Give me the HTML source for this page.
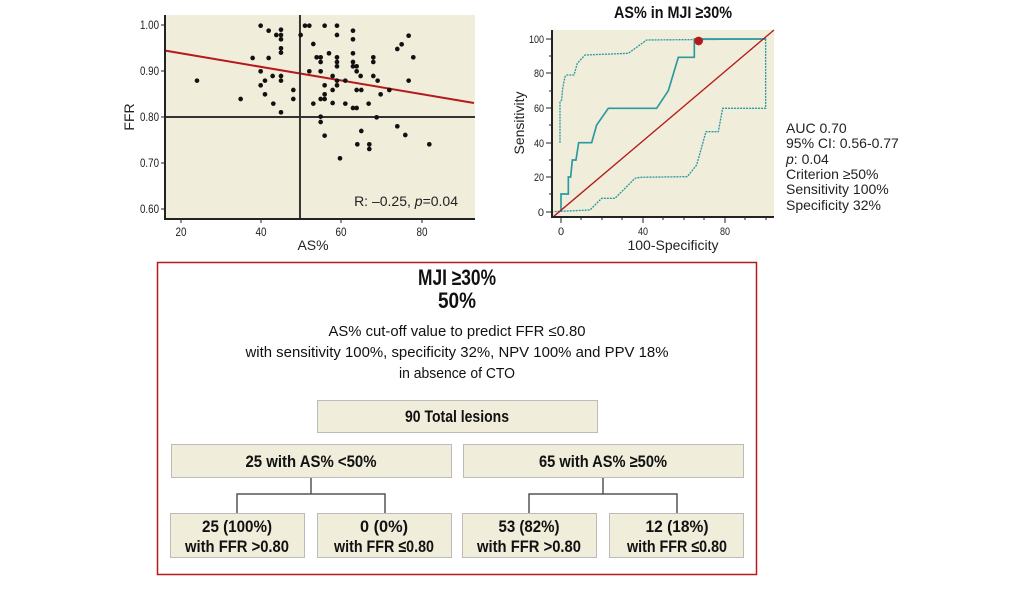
<!DOCTYPE html>
<html><head><meta charset="utf-8"><style>
html,body{margin:0;padding:0;background:#fff;}
svg{display:block;}
.n{font-family:"Liberation Sans Narrow","Liberation Sans",sans-serif;}
.s{font-family:"Liberation Sans",sans-serif;}
</style></head><body>
<svg width="1033" height="591" viewBox="0 0 1033 591" xmlns="http://www.w3.org/2000/svg">
<!-- Scatter -->
<rect x="165" y="15" width="310" height="204" fill="#f1eddb"/>
<g transform="translate(120,0) scale(0.3333)" fill="#111">
<line x1="136" y1="152" x2="1062" y2="309" stroke="#b5191c" stroke-width="6"/>
<line x1="540" y1="45" x2="540" y2="655" stroke="#333" stroke-width="6"/>
<line x1="135" y1="351" x2="1065" y2="351" stroke="#333" stroke-width="6"/>
<circle cx="231" cy="242" r="7"/><circle cx="362" cy="297" r="7"/><circle cx="398" cy="174" r="7"/><circle cx="422" cy="77" r="7"/><circle cx="422" cy="214" r="7"/><circle cx="422" cy="256" r="7"/><circle cx="435" cy="242" r="7"/><circle cx="435" cy="283" r="7"/><circle cx="446" cy="92" r="7"/><circle cx="446" cy="174" r="7"/><circle cx="458" cy="228" r="7"/><circle cx="460" cy="311" r="7"/><circle cx="469" cy="105" r="7"/><circle cx="483" cy="89" r="7"/><circle cx="483" cy="105" r="7"/><circle cx="483" cy="118" r="7"/><circle cx="483" cy="145" r="7"/><circle cx="483" cy="158" r="7"/><circle cx="483" cy="228" r="7"/><circle cx="483" cy="242" r="7"/><circle cx="483" cy="337" r="7"/><circle cx="520" cy="270" r="7"/><circle cx="520" cy="297" r="7"/><circle cx="542" cy="105" r="7"/><circle cx="555" cy="77" r="7"/><circle cx="568" cy="77" r="7"/><circle cx="568" cy="214" r="7"/><circle cx="580" cy="311" r="7"/><circle cx="580" cy="132" r="7"/><circle cx="590" cy="172" r="7"/><circle cx="602" cy="172" r="7"/><circle cx="602" cy="186" r="7"/><circle cx="602" cy="214" r="7"/><circle cx="602" cy="297" r="7"/><circle cx="602" cy="350" r="7"/><circle cx="602" cy="366" r="7"/><circle cx="614" cy="77" r="7"/><circle cx="614" cy="256" r="7"/><circle cx="614" cy="283" r="7"/><circle cx="614" cy="297" r="7"/><circle cx="614" cy="407" r="7"/><circle cx="627" cy="160" r="7"/><circle cx="638" cy="228" r="7"/><circle cx="638" cy="270" r="7"/><circle cx="638" cy="309" r="7"/><circle cx="651" cy="77" r="7"/><circle cx="651" cy="105" r="7"/><circle cx="651" cy="172" r="7"/><circle cx="651" cy="186" r="7"/><circle cx="651" cy="199" r="7"/><circle cx="651" cy="242" r="7"/><circle cx="651" cy="256" r="7"/><circle cx="660" cy="475" r="7"/><circle cx="676" cy="242" r="7"/><circle cx="676" cy="311" r="7"/><circle cx="699" cy="92" r="7"/><circle cx="699" cy="118" r="7"/><circle cx="699" cy="160" r="7"/><circle cx="699" cy="186" r="7"/><circle cx="699" cy="199" r="7"/><circle cx="699" cy="324" r="7"/><circle cx="710" cy="199" r="7"/><circle cx="710" cy="214" r="7"/><circle cx="710" cy="270" r="7"/><circle cx="710" cy="324" r="7"/><circle cx="712" cy="433" r="7"/><circle cx="722" cy="228" r="7"/><circle cx="724" cy="270" r="7"/><circle cx="724" cy="393" r="7"/><circle cx="746" cy="311" r="7"/><circle cx="748" cy="433" r="7"/><circle cx="748" cy="447" r="7"/><circle cx="760" cy="228" r="7"/><circle cx="760" cy="172" r="7"/><circle cx="760" cy="186" r="7"/><circle cx="770" cy="352" r="7"/><circle cx="773" cy="242" r="7"/><circle cx="782" cy="283" r="7"/><circle cx="808" cy="270" r="7"/><circle cx="832" cy="379" r="7"/><circle cx="832" cy="147" r="7"/><circle cx="845" cy="133" r="7"/><circle cx="856" cy="405" r="7"/><circle cx="866" cy="107" r="7"/><circle cx="866" cy="242" r="7"/><circle cx="880" cy="172" r="7"/><circle cx="928" cy="433" r="7"/>
</g>
<path d="M165 15 V219 H475" fill="none" stroke="#222" stroke-width="2"/>
<g stroke="#222" stroke-width="1">
<line x1="161" y1="25" x2="165" y2="25"/><line x1="161" y1="71" x2="165" y2="71"/><line x1="161" y1="117" x2="165" y2="117"/><line x1="161" y1="163" x2="165" y2="163"/><line x1="161" y1="209" x2="165" y2="209"/>
<line x1="181" y1="219" x2="181" y2="223"/><line x1="261" y1="219" x2="261" y2="223"/><line x1="341" y1="219" x2="341" y2="223"/><line x1="422" y1="219" x2="422" y2="223"/>
</g>
<g class="n" font-size="12" fill="#222" text-anchor="end" lengthAdjust="spacingAndGlyphs">
<text x="159" y="29" textLength="19" lengthAdjust="spacingAndGlyphs">1.00</text><text x="159" y="75" textLength="19" lengthAdjust="spacingAndGlyphs">0.90</text><text x="159" y="121" textLength="19" lengthAdjust="spacingAndGlyphs">0.80</text><text x="159" y="167" textLength="19" lengthAdjust="spacingAndGlyphs">0.70</text><text x="159" y="213" textLength="19" lengthAdjust="spacingAndGlyphs">0.60</text>
</g>
<g class="n" font-size="12" fill="#222" text-anchor="middle">
<text x="181" y="236" textLength="11" lengthAdjust="spacingAndGlyphs">20</text><text x="261" y="236" textLength="11" lengthAdjust="spacingAndGlyphs">40</text><text x="341" y="236" textLength="11" lengthAdjust="spacingAndGlyphs">60</text><text x="422" y="236" textLength="11" lengthAdjust="spacingAndGlyphs">80</text>
</g>
<text class="s" x="313" y="250" font-size="14" text-anchor="middle" fill="#222">AS%</text>
<text class="s" x="0" y="0" font-size="14" text-anchor="middle" fill="#222" transform="translate(134,117) rotate(-90)">FFR</text>
<text class="s" x="458" y="206" font-size="14" text-anchor="end" fill="#222">R: –0.25, <tspan font-style="italic">p</tspan>=0.04</text>

<!-- ROC -->
<text class="n" x="673" y="18" font-size="17" font-weight="bold" text-anchor="middle" fill="#111" textLength="118" lengthAdjust="spacingAndGlyphs">AS% in MJI ≥30%</text>
<rect x="552" y="30" width="222" height="187" fill="#f1eddb"/>
<g transform="translate(500,0) scale(0.3333)" fill="none">
<polyline points="183,635 183,582 205,582 205,531 212,531 217,480 228,480 236,428 275,428 290,375 325,325 470,325 505,272 535,172 583,172 583,117 797,117" stroke="#2a9aa0" stroke-width="5"/>
<polyline points="180,428 180,305 185,300 188,265 195,230 200,225 222,225 232,190 255,165 385,160 440,120 797,117 797,325 668,325 655,395 618,395 590,495 562,530 420,532 405,535 345,595 305,595 285,615 270,630 160,635" stroke="#2a9aa0" stroke-width="4" stroke-dasharray="6,3"/>
<line x1="158" y1="652" x2="822" y2="90" stroke="#b5191c" stroke-width="4"/>
<circle cx="596" cy="123" r="13" fill="#b5191c"/>
</g>
<path d="M552 30 V217 H774" fill="none" stroke="#222" stroke-width="2"/>
<g stroke="#222" stroke-width="1">
<line x1="546" y1="212" x2="552" y2="212"/><line x1="546" y1="177" x2="552" y2="177"/><line x1="546" y1="143" x2="552" y2="143"/><line x1="546" y1="108" x2="552" y2="108"/><line x1="546" y1="73" x2="552" y2="73"/><line x1="546" y1="39" x2="552" y2="39"/>
<line x1="549" y1="194" x2="552" y2="194"/><line x1="549" y1="160" x2="552" y2="160"/><line x1="549" y1="125" x2="552" y2="125"/><line x1="549" y1="91" x2="552" y2="91"/><line x1="549" y1="56" x2="552" y2="56"/>
<line x1="561" y1="217" x2="561" y2="223"/><line x1="643" y1="217" x2="643" y2="223"/><line x1="725" y1="217" x2="725" y2="223"/>
<line x1="581" y1="217" x2="581" y2="220"/><line x1="602" y1="217" x2="602" y2="220"/><line x1="622" y1="217" x2="622" y2="220"/><line x1="663" y1="217" x2="663" y2="220"/><line x1="684" y1="217" x2="684" y2="220"/><line x1="704" y1="217" x2="704" y2="220"/><line x1="745" y1="217" x2="745" y2="220"/><line x1="766" y1="217" x2="766" y2="220"/>
</g>
<g class="n" font-size="11" fill="#222" text-anchor="end">
<text x="544" y="216">0</text><text x="544" y="181" textLength="10" lengthAdjust="spacingAndGlyphs">20</text><text x="544" y="147" textLength="10" lengthAdjust="spacingAndGlyphs">40</text><text x="544" y="112" textLength="10" lengthAdjust="spacingAndGlyphs">60</text><text x="544" y="77" textLength="10" lengthAdjust="spacingAndGlyphs">80</text><text x="544" y="43" textLength="15" lengthAdjust="spacingAndGlyphs">100</text>
</g>
<g class="n" font-size="11" fill="#222" text-anchor="middle">
<text x="561" y="235">0</text><text x="643" y="235" textLength="10" lengthAdjust="spacingAndGlyphs">40</text><text x="725" y="235" textLength="10" lengthAdjust="spacingAndGlyphs">80</text>
</g>
<text class="s" x="673" y="250" font-size="14" text-anchor="middle" fill="#222">100-Specificity</text>
<text class="s" font-size="14" text-anchor="middle" fill="#222" transform="translate(524,123) rotate(-90)">Sensitivity</text>
<g class="s" font-size="14" fill="#222">
<text x="786" y="133">AUC 0.70</text><text x="786" y="148">95% CI: 0.56-0.77</text><text x="786" y="164"><tspan font-style="italic">p</tspan>: 0.04</text><text x="786" y="179">Criterion ≥50%</text><text x="786" y="194">Sensitivity 100%</text><text x="786" y="210">Specificity 32%</text>
</g>

<!-- Box -->
<rect x="157.5" y="262.5" width="599" height="312" fill="none" stroke="#b5191c" stroke-width="1.5"/>
<g class="n" font-weight="bold" font-size="22" fill="#111" text-anchor="middle">
<text x="457" y="285" textLength="78" lengthAdjust="spacingAndGlyphs">MJI ≥30%</text><text x="457" y="308" textLength="38" lengthAdjust="spacingAndGlyphs">50%</text>
</g>
<g class="n" font-size="15" fill="#111" text-anchor="middle">
<text x="457" y="336" textLength="257" lengthAdjust="spacingAndGlyphs">AS% cut-off value to predict FFR ≤0.80</text>
<text x="457" y="357" textLength="423" lengthAdjust="spacingAndGlyphs">with sensitivity 100%, specificity 32%, NPV 100% and PPV 18%</text>
<text x="457" y="378" textLength="116" lengthAdjust="spacingAndGlyphs">in absence of CTO</text>
</g>
<g fill="#f1eddb" stroke="#bbb" stroke-width="1">
<rect x="317.5" y="400.5" width="280" height="32"/>
<rect x="171.5" y="444.5" width="280" height="33"/>
<rect x="463.5" y="444.5" width="280" height="33"/>
<rect x="170.5" y="513.5" width="134" height="44"/>
<rect x="317.5" y="513.5" width="134" height="44"/>
<rect x="462.5" y="513.5" width="134" height="44"/>
<rect x="609.5" y="513.5" width="134" height="44"/>
</g>
<g fill="none" stroke="#555" stroke-width="1.5">
<path d="M311 478 V494 M237 513 V494 H385 V513"/>
<path d="M603 478 V494 M529 513 V494 H677 V513"/>
</g>
<g class="n" font-weight="bold" font-size="17" fill="#111" text-anchor="middle">
<text x="457" y="422" textLength="104" lengthAdjust="spacingAndGlyphs">90 Total lesions</text>
<text x="311" y="467" textLength="131" lengthAdjust="spacingAndGlyphs">25 with AS% &lt;50%</text>
<text x="603" y="467" textLength="128" lengthAdjust="spacingAndGlyphs">65 with AS% ≥50%</text>
<text x="237" y="532" textLength="70" lengthAdjust="spacingAndGlyphs">25 (100%)</text><text x="237" y="552" textLength="104" lengthAdjust="spacingAndGlyphs">with FFR &gt;0.80</text>
<text x="384" y="532" textLength="48" lengthAdjust="spacingAndGlyphs">0 (0%)</text><text x="384" y="552" textLength="100" lengthAdjust="spacingAndGlyphs">with FFR ≤0.80</text>
<text x="529" y="532" textLength="61" lengthAdjust="spacingAndGlyphs">53 (82%)</text><text x="529" y="552" textLength="104" lengthAdjust="spacingAndGlyphs">with FFR &gt;0.80</text>
<text x="677" y="532" textLength="63" lengthAdjust="spacingAndGlyphs">12 (18%)</text><text x="677" y="552" textLength="100" lengthAdjust="spacingAndGlyphs">with FFR ≤0.80</text>
</g>
</svg>
</body></html>
